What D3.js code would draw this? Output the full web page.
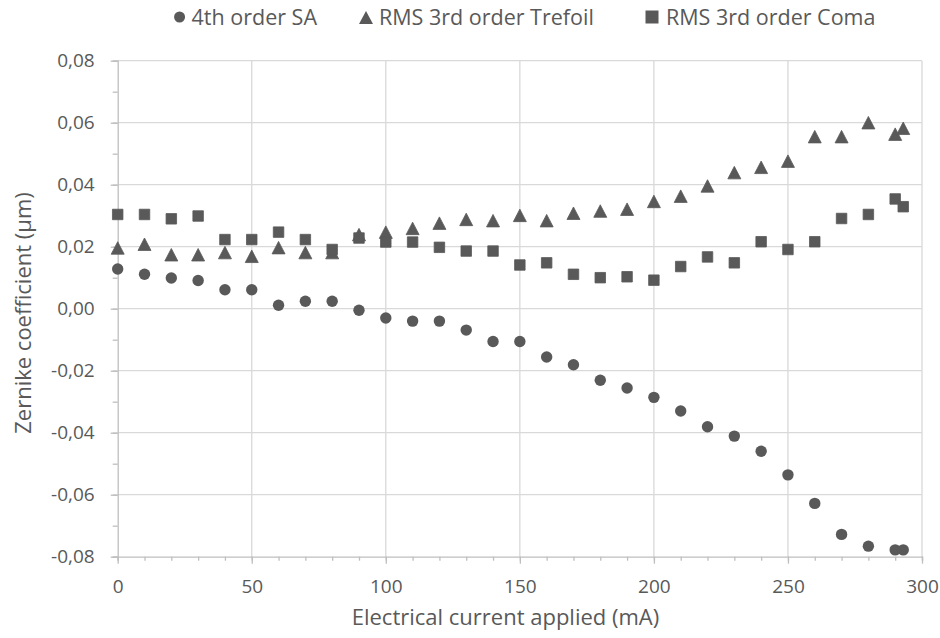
<!DOCTYPE html>
<html><head><meta charset="utf-8">
<script src="https://cdn.jsdelivr.net/npm/d3@7"></script>
<style>
html,body{margin:0;padding:0;background:#fff;}
svg{display:block;font-family:"Open Sans","Noto Sans",sans-serif;}
</style></head>
<body><svg id="c" width="940" height="638"></svg>
<script>
const currents = [0,10,20,30,40,50,60,70,80,90,100,110,120,130,140,150,160,170,180,190,200,210,220,230,240,250,260,270,280,290,293];
const sa4 = [0.0128,0.0111,0.0099,0.0091,0.0061,0.0061,0.0011,0.0024,0.0024,-0.0005,-0.0030,-0.0040,-0.0040,-0.0069,-0.0106,-0.0106,-0.0156,-0.0181,-0.0231,-0.0256,-0.0286,-0.0330,-0.0381,-0.0411,-0.0460,-0.0536,-0.0628,-0.0728,-0.0766,-0.0778,-0.0778];
const trefoil = [0.0196,0.0208,0.0174,0.0174,0.0181,0.0169,0.0197,0.0181,0.0181,0.0239,0.0247,0.0259,0.0276,0.0288,0.0284,0.0301,0.0284,0.0308,0.0315,0.0321,0.0346,0.0363,0.0396,0.0439,0.0456,0.0476,0.0555,0.0555,0.0600,0.0563,0.0582];
const coma = [0.0304,0.0304,0.0290,0.0299,0.0223,0.0223,0.0247,0.0223,0.0191,0.0228,0.0215,0.0215,0.0198,0.0186,0.0186,0.0141,0.0148,0.0111,0.0100,0.0103,0.0092,0.0136,0.0167,0.0148,0.0216,0.0191,0.0216,0.0291,0.0304,0.0354,0.0329];
const seriesNames = ["4th order SA","RMS 3rd order Trefoil","RMS 3rd order Coma"];
const xTicks = [0,50,100,150,200,250,300];
const yTicks = [-0.08,-0.06,-0.04,-0.02,0,0.02,0.04,0.06,0.08];
const xTitle = "Electrical current applied (mA)";
const yTitle = "Zernike coefficient (µm)";

const svg = d3.select("#c");
const L = 117.7, R = 922, T = 60.7, B = 556.7;
const x = d3.scaleLinear().domain([0,300]).range([L,R]);
const y = d3.scaleLinear().domain([-0.08,0.08]).range([B,T]);
const grid = "#d9d9d9", axisC = "#bfbfbf", txt = "#595959", mk = "#595959";
const fmt = v => d3.format(".2f")(v).replace("−","-").replace(".",",");

// gridlines
svg.append("g").selectAll("line").data(yTicks.filter(v=>v!==-0.08)).join("line")
  .attr("x1",L).attr("x2",R).attr("y1",d=>y(d)).attr("y2",d=>y(d))
  .attr("stroke",grid).attr("stroke-width",1.3);
svg.append("g").selectAll("line").data(xTicks.filter(v=>v!==0)).join("line")
  .attr("x1",d=>x(d)).attr("x2",d=>x(d)).attr("y1",T).attr("y2",B)
  .attr("stroke",grid).attr("stroke-width",1.3);

// axes
const xMinor = d3.range(0,301,10);
const yMinor = d3.range(-8,9,1).map(v=>v/100);
const ax = svg.append("g").attr("transform",`translate(0,${B})`)
  .call(d3.axisBottom(x).tickValues(xMinor).tickSize(4).tickFormat(""));
ax.select(".domain").attr("stroke",axisC).attr("stroke-width",1.3);
ax.selectAll("line").attr("stroke",axisC).attr("stroke-width",1.3);
const ax2 = svg.append("g").attr("transform",`translate(0,${B})`)
  .call(d3.axisBottom(x).tickValues(xTicks).tickSize(7).tickPadding(16).tickFormat(d3.format("d")));
ax2.select(".domain").remove();
ax2.selectAll("line").attr("stroke",axisC).attr("stroke-width",1.3);
ax2.selectAll("text").attr("fill",txt).style("font-size","19px").style("font-family","'Open Sans',sans-serif");

const ay = svg.append("g").attr("transform",`translate(${L},0)`)
  .call(d3.axisLeft(y).tickValues(yMinor).tickSize(5).tickFormat(""));
ay.select(".domain").attr("stroke",axisC).attr("stroke-width",1.3);
ay.selectAll("line").attr("stroke",axisC).attr("stroke-width",1.3);
const ay2 = svg.append("g").attr("transform",`translate(${L},0)`)
  .call(d3.axisLeft(y).tickValues(yTicks).tickSize(7).tickPadding(16).tickFormat(fmt));
ay2.select(".domain").remove();
ay2.selectAll("line").attr("stroke",axisC).attr("stroke-width",1.3);
ay2.selectAll("text").attr("fill",txt).style("font-size","19px").style("font-family","'Open Sans',sans-serif");

// titles
svg.append("text").attr("x",505.5).attr("y",625).attr("text-anchor","middle")
  .attr("fill",txt).style("font-size","22px").text(xTitle);
svg.append("text").attr("transform","translate(31,313) rotate(-90)").attr("text-anchor","middle")
  .attr("fill",txt).style("font-size","22px").text(yTitle);

// markers
const tri = (w,h) => `M0,${-h/2}L${w/2},${h/2}L${-w/2},${h/2}Z`;
const sq = s => `M${-s/2},${-s/2}h${s}v${s}h${-s}Z`;
const pts = (arr) => currents.map((c,i)=>({c, v:arr[i]}));
svg.append("g").selectAll("circle").data(pts(sa4)).join("circle")
  .attr("cx",d=>x(d.c)).attr("cy",d=>y(d.v)).attr("r",5.7).attr("fill",mk);
svg.append("g").selectAll("path").data(pts(trefoil)).join("path")
  .attr("d",tri(13,12.5)).attr("transform",d=>`translate(${x(d.c)},${y(d.v)})`)
  .attr("fill",mk).attr("stroke",mk).attr("stroke-width",0.8).attr("stroke-linejoin","round");
svg.append("g").selectAll("path").data(pts(coma)).join("path")
  .attr("d",sq(10.5)).attr("transform",d=>`translate(${x(d.c)},${y(d.v)})`)
  .attr("fill",mk).attr("stroke",mk).attr("stroke-width",0.8).attr("stroke-linejoin","round");

// legend
const lg = svg.append("g");
const t0 = lg.append("text").attr("x",317).attr("y",25).attr("text-anchor","end")
  .attr("fill",txt).style("font-size","21.5px").text(seriesNames[0]);
const w0 = t0.node().getComputedTextLength();
lg.append("circle").attr("cx",317-w0-12).attr("cy",17).attr("r",5.5).attr("fill",mk);
lg.append("path").attr("d",tri(14,13)).attr("transform",`translate(366,17.5)`).attr("fill",mk);
lg.append("text").attr("x",379).attr("y",25).attr("fill",txt).style("font-size","21.5px").text(seriesNames[1]);
lg.append("path").attr("d",sq(13)).attr("transform",`translate(652,17)`).attr("fill",mk);
lg.append("text").attr("x",666).attr("y",25).attr("fill",txt).style("font-size","21.5px").text(seriesNames[2]);
</script></body></html>
